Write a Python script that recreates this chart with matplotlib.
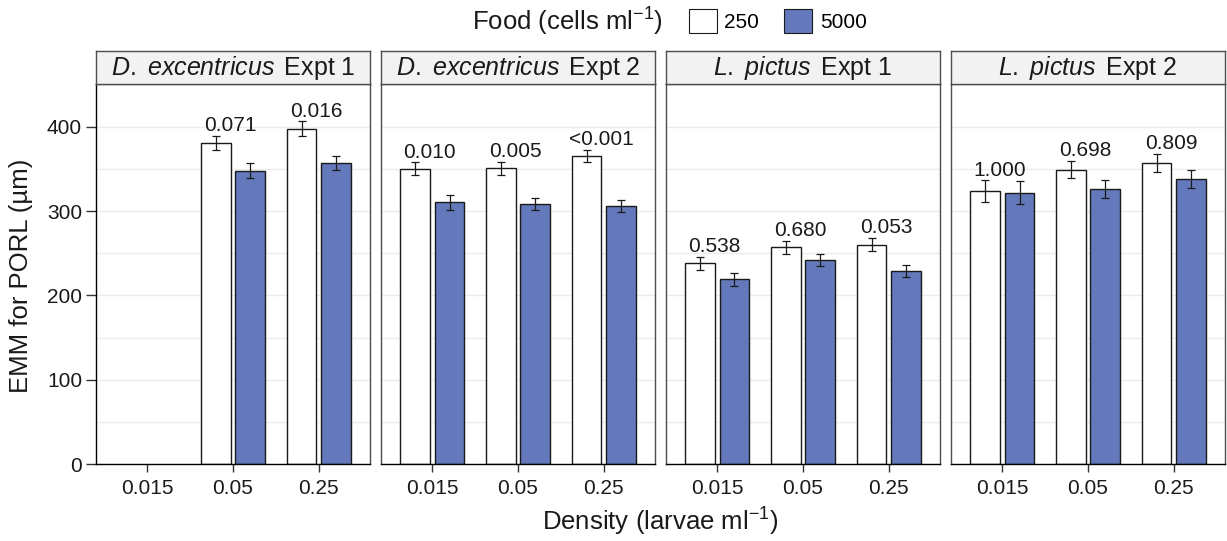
import numpy as np
import matplotlib
matplotlib.use("Agg")
import matplotlib.pyplot as plt
from matplotlib.patches import Patch

plt.rcParams['font.family'] = ['Liberation Sans', 'DejaVu Sans']
plt.rcParams['mathtext.fontset'] = 'custom'
plt.rcParams['mathtext.rm'] = 'Liberation Sans'
plt.rcParams['mathtext.it'] = 'Liberation Sans:italic'

# =============================================================================
# data
# =============================================================================
density = ["0.015", "0.05", "0.25"]
food = ["250", "5000"]

species = ["D.\\ excentricus", "D.\\ excentricus", "L.\\ pictus", "L.\\ pictus"]
expt = ["Expt 1", "Expt 2", "Expt 1", "Expt 2"]

low_mean = [[np.nan, 381, 398],
            [350.5, 351, 365.5],
            [238, 257, 260.5],
            [323.5, 349.5, 357]]
low_se = [[np.nan, 8.5, 8.5],
          [7.5, 7.5, 7.5],
          [8, 7.3, 7.5],
          [13, 10.5, 11]]
high_mean = [[np.nan, 348, 357],
             [310.5, 308.5, 306],
             [219, 242, 229],
             [322, 326.5, 338]]
high_se = [[np.nan, 9, 8.5],
           [8.5, 7.5, 7],
           [7.5, 7.5, 7.5],
           [14, 11, 11]]
pvals = [["", "0.071", "0.016"],
         ["0.010", "0.005", "<0.001"],
         ["0.538", "0.680", "0.053"],
         ["1.000", "0.698", "0.809"]]

# =============================================================================
# layout
# =============================================================================
W, H = 1227, 541
fig = plt.figure(figsize=(W / 100, H / 100), dpi=100)

blue = "#6479BB"
border = "#4d4d4d"
lefts = [96, 381, 666, 951]
pw = 274
ptop, pbot = 84, 464
stop = 51

x = np.arange(1, 4)
off = 0.2
bw = 0.35

for k in range(4):
    ax = fig.add_axes([lefts[k] / W, (H - pbot) / H, pw / W, (pbot - ptop) / H])
    ax.set_xlim(0.4, 3.6)
    ax.set_ylim(0, 451)

    # grid
    ax.set_yticks([0, 100, 200, 300, 400])
    ax.set_yticks([50, 150, 250, 350], minor=True)
    ax.yaxis.grid(True, which='both', color='#EBEBEB', lw=1)
    ax.set_axisbelow(True)

    lm = np.array(low_mean[k], dtype=float)
    ls = np.array(low_se[k], dtype=float)
    hm = np.array(high_mean[k], dtype=float)
    hs = np.array(high_se[k], dtype=float)

    ax.bar(x - off, lm, bw, color='white', edgecolor='#1a1a1a', lw=1, zorder=2)
    ax.bar(x + off, hm, bw, color=blue, edgecolor='#1a1a1a', lw=1, zorder=2)
    ax.errorbar(x - off, lm, yerr=ls, fmt='none', ecolor='#1a1a1a',
                elinewidth=0.9, capsize=2.9, capthick=0.9, zorder=3)
    ax.errorbar(x + off, hm, yerr=hs, fmt='none', ecolor='#1a1a1a',
                elinewidth=0.9, capsize=2.9, capthick=0.9, zorder=3)

    for i in range(3):
        if pvals[k][i]:
            ax.text(x[i] - 0.03, lm[i] + ls[i] + 1, pvals[k][i], ha='center',
                    va='bottom', fontsize=15, color='#1a1a1a', zorder=4)

    ax.set_xticks(x)
    ax.set_xticklabels(density)
    ax.tick_params(axis='x', length=6, width=1, color='#333333', pad=5,
                   labelsize=15, labelcolor='#1a1a1a')
    ax.tick_params(axis='y', which='minor', length=0)
    if k == 0:
        ax.tick_params(axis='y', which='major', length=7, width=1,
                       color='#333333', pad=3, labelsize=15,
                       labelcolor='#1a1a1a')
    else:
        ax.tick_params(axis='y', which='major', length=0, labelleft=False)

    for s in ax.spines.values():
        s.set_color(border)
        s.set_linewidth(1)
    ax.spines['bottom'].set_color('black')
    if k == 0:
        ax.spines['left'].set_color('black')

    # strip
    st = fig.add_axes([lefts[k] / W, (H - ptop) / H, pw / W, (ptop - stop) / H])
    st.set_facecolor('#F2F2F2')
    st.set_xticks([])
    st.set_yticks([])
    for s in st.spines.values():
        s.set_color(border)
        s.set_linewidth(1)
    st.text(0.5, 0.47, r"$\it{" + species[k] + r"}\,$ " + expt[k],
            ha='center', va='center', fontsize=18, color='#1a1a1a',
            transform=st.transAxes)

# axis titles
fig.text(21 / W, 1 - 276 / H, "EMM for PORL (µm)", rotation=90,
         ha='center', va='center', fontsize=18.5, color='#1a1a1a')
fig.text(660 / W, 1 - 522 / H, r"Density (larvae ml$^{-1}$)",
         ha='center', va='center', fontsize=18.5, color='#1a1a1a')

# legend
fig.text(663 / W, 1 - 22 / H, r"Food (cells ml$^{-1}$)", ha='right',
         va='center', fontsize=18.5, color='#1a1a1a')
handles = [Patch(facecolor='white', edgecolor='#1a1a1a', lw=0.8),
           Patch(facecolor=blue, edgecolor='#1a1a1a', lw=0.8)]
fig.legend(handles, food, loc='center left', bbox_to_anchor=(689 / W, 1 - 21 / H),
           ncol=2, frameon=False, fontsize=15, handlelength=1.35,
           handleheight=1.35, handletextpad=0.35, columnspacing=1.2,
           borderpad=0, borderaxespad=0)

fig.savefig("out.png", dpi=100)
